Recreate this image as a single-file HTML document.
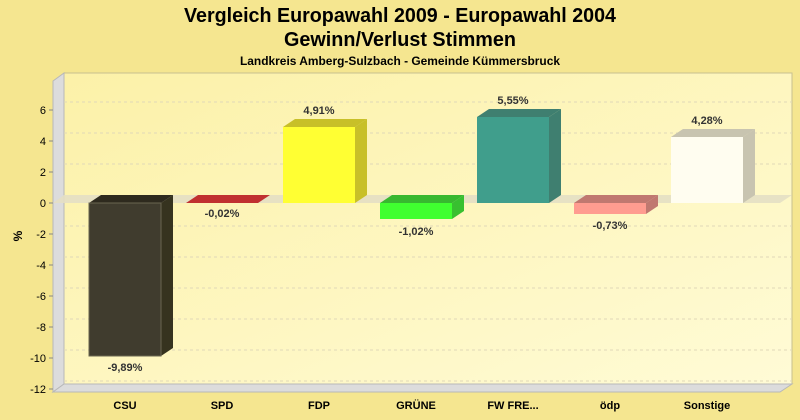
<!DOCTYPE html>
<html><head><meta charset="utf-8"><style>
html,body{margin:0;padding:0;background:#f5e690;}
svg{display:block;font-family:"Liberation Sans",Arial,sans-serif;}
</style></head><body>
<svg width="800" height="420" viewBox="0 0 800 420" xmlns="http://www.w3.org/2000/svg">
<defs>
<linearGradient id="wall" x1="0" y1="0" x2="1" y2="1">
<stop offset="0" stop-color="#fcf1a8"/><stop offset="1" stop-color="#fffbd6"/>
</linearGradient>
</defs>
<rect width="800" height="420" fill="#f5e690"/>
<text x="400" y="22" text-anchor="middle" font-family="'Liberation Sans Narrow','Liberation Sans',sans-serif" font-weight="bold" font-size="20" textLength="432" lengthAdjust="spacingAndGlyphs">Vergleich Europawahl 2009 - Europawahl 2004</text>
<text x="400" y="46" text-anchor="middle" font-family="'Liberation Sans Narrow','Liberation Sans',sans-serif" font-weight="bold" font-size="20" textLength="232" lengthAdjust="spacingAndGlyphs">Gewinn/Verlust Stimmen</text>
<text x="400" y="65" text-anchor="middle" font-weight="bold" font-size="11.5" textLength="320" lengthAdjust="spacingAndGlyphs">Landkreis Amberg-Sulzbach - Gemeinde Kümmersbruck</text>
<rect x="64" y="73" width="728" height="311" fill="url(#wall)" stroke="#c8c090" stroke-width="1"/>
<polygon points="53,81 64,73 64,384 53,392" fill="#dcdcdc" stroke="#b8b8b8" stroke-width="1"/>
<polygon points="53,392 64,384 792,384 780,392" fill="#dcdcdc" stroke="#b8b8b8" stroke-width="1"/>
<g stroke="#e0d8b8" stroke-dasharray="3,3" stroke-width="1">
<line x1="64" y1="102" x2="792" y2="102"/><line x1="64" y1="133" x2="792" y2="133"/>
<line x1="64" y1="164" x2="792" y2="164"/><line x1="64" y1="226" x2="792" y2="226"/>
<line x1="64" y1="257" x2="792" y2="257"/><line x1="64" y1="288" x2="792" y2="288"/>
<line x1="64" y1="319" x2="792" y2="319"/><line x1="64" y1="350" x2="792" y2="350"/>
<line x1="64" y1="381" x2="792" y2="381"/>
</g>
<polygon points="53,203 64,195 792,195 780,203" fill="#e4dfc4" opacity="0.9"/>
<g font-size="11" text-anchor="end" fill="#000">
<text x="46" y="114">6</text><text x="46" y="145">4</text><text x="46" y="176">2</text>
<text x="46" y="207">0</text><text x="46" y="238">-2</text><text x="46" y="269">-4</text>
<text x="46" y="300">-6</text><text x="46" y="331">-8</text><text x="46" y="362">-10</text>
<text x="46" y="393">-12</text>
</g>
<g stroke="#888" stroke-width="1">
<line x1="49" y1="110" x2="53" y2="110"/><line x1="49" y1="141" x2="53" y2="141"/>
<line x1="49" y1="172" x2="53" y2="172"/><line x1="49" y1="203" x2="53" y2="203"/>
<line x1="49" y1="234" x2="53" y2="234"/><line x1="49" y1="265" x2="53" y2="265"/>
<line x1="49" y1="296" x2="53" y2="296"/><line x1="49" y1="327" x2="53" y2="327"/>
<line x1="49" y1="358" x2="53" y2="358"/><line x1="49" y1="389" x2="53" y2="389"/>
</g>
<text x="22" y="236" font-size="12" font-weight="bold" transform="rotate(-90 22 236)" text-anchor="middle">%</text>
<polygon points="89,203 101,195 173,195 161,203" fill="#2e2a1e"/>
<polygon points="161,203 173,195 173,348 161,356" fill="#36331f"/>
<rect x="89" y="203" width="72" height="153" fill="#403c2e" stroke="#6a6650" stroke-width="1"/>
<polygon points="186,203 198,195 270,195 258,203" fill="#c03030"/>
<polygon points="283,127 295,119 367,119 355,127" fill="#c8c028"/>
<polygon points="355,127 367,119 367,195 355,203" fill="#c8c028"/>
<rect x="283" y="127" width="72" height="76" fill="#ffff33"/>
<polygon points="380,203 392,195 464,195 452,203" fill="#38b830"/>
<polygon points="452,203 464,195 464,211 452,219" fill="#38c030"/>
<rect x="380" y="203" width="72" height="16" fill="#40ff30"/>
<polygon points="477,117 489,109 561,109 549,117" fill="#3f7f70"/>
<polygon points="549,117 561,109 561,195 549,203" fill="#3f7f70"/>
<rect x="477" y="117" width="72" height="86" fill="#409e8c"/>
<polygon points="574,203 586,195 658,195 646,203" fill="#c07870"/>
<polygon points="646,203 658,195 658,206 646,214" fill="#c07870"/>
<rect x="574" y="203" width="72" height="11" fill="#ff9c90"/>
<polygon points="671,137 683,129 755,129 743,137" fill="#c8c4b0"/>
<polygon points="743,137 755,129 755,195 743,203" fill="#c8c4b0"/>
<rect x="671" y="137" width="72" height="66" fill="#fffdf0"/>
<g font-size="11" font-weight="bold" text-anchor="middle" fill="#333">
<text x="125" y="371">-9,89%</text>
<text x="222" y="217">-0,02%</text>
<text x="319" y="114">4,91%</text>
<text x="416" y="235">-1,02%</text>
<text x="513" y="104">5,55%</text>
<text x="610" y="229">-0,73%</text>
<text x="707" y="124">4,28%</text>
</g>
<g font-size="11" font-weight="bold" text-anchor="middle" fill="#000">
<text x="125" y="409">CSU</text><text x="222" y="409">SPD</text><text x="319" y="409">FDP</text>
<text x="416" y="409">GRÜNE</text><text x="513" y="409">FW FRE...</text><text x="610" y="409">ödp</text>
<text x="707" y="409">Sonstige</text>
</g>
</svg>
</body></html>
